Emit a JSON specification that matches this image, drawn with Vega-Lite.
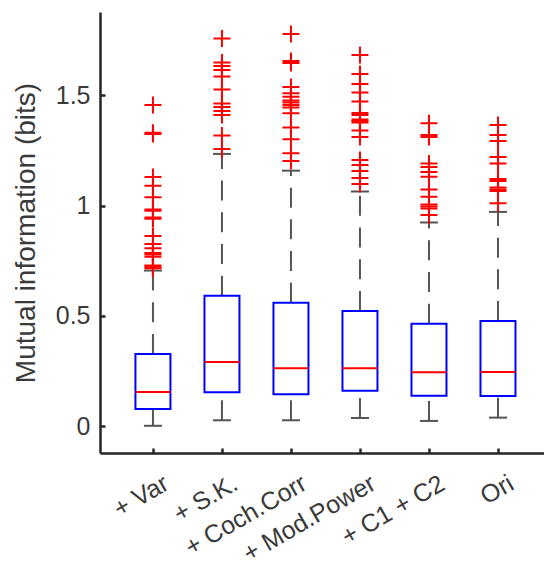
{
  "$schema": "https://vega.github.io/schema/vega-lite/v6.json",
  "autosize": {"type": "none"},
  "width": 444,
  "height": 441,
  "padding": {"left": 100, "top": 12, "right": 0, "bottom": 114},
  "background": "white",
  "config": {
    "view": {"stroke": null},
    "font": "Liberation Sans",
    "axis": {"grid": false, "domainColor": "#262626", "domainWidth": 2.5, "tickColor": "#262626", "tickWidth": 2.5, "labelColor": "#3a3a3a", "titleColor": "#3a3a3a", "labelFont": "Liberation Sans", "titleFont": "Liberation Sans", "titleFontWeight": "normal"}
  },
  "datasets": {
    "stats": [
      {"group": "+ Var", "lower": 0.001, "q1": 0.077, "median": 0.154, "q3": 0.327, "upper": 0.705},
      {"group": "+ S.K.", "lower": 0.026, "q1": 0.153, "median": 0.290, "q3": 0.591, "upper": 1.234},
      {"group": "+ Coch.Corr", "lower": 0.026, "q1": 0.144, "median": 0.262, "q3": 0.559, "upper": 1.158},
      {"group": "+ Mod.Power", "lower": 0.036, "q1": 0.160, "median": 0.262, "q3": 0.522, "upper": 1.063},
      {"group": "+ C1 + C2", "lower": 0.023, "q1": 0.137, "median": 0.244, "q3": 0.464, "upper": 0.923},
      {"group": "Ori", "lower": 0.038, "q1": 0.136, "median": 0.245, "q3": 0.476, "upper": 0.971}
    ],
    "outliers": [
      {"group": "+ Var", "value": 1.456}, {"group": "+ Var", "value": 1.330}, {"group": "+ Var", "value": 1.324},
      {"group": "+ Var", "value": 1.129}, {"group": "+ Var", "value": 1.090}, {"group": "+ Var", "value": 1.037},
      {"group": "+ Var", "value": 0.982}, {"group": "+ Var", "value": 0.976}, {"group": "+ Var", "value": 0.946},
      {"group": "+ Var", "value": 0.940}, {"group": "+ Var", "value": 0.862}, {"group": "+ Var", "value": 0.825},
      {"group": "+ Var", "value": 0.806}, {"group": "+ Var", "value": 0.785}, {"group": "+ Var", "value": 0.778},
      {"group": "+ Var", "value": 0.768}, {"group": "+ Var", "value": 0.728}, {"group": "+ Var", "value": 0.722},
      {"group": "+ Var", "value": 0.716},
      {"group": "+ S.K.", "value": 1.757}, {"group": "+ S.K.", "value": 1.649}, {"group": "+ S.K.", "value": 1.633},
      {"group": "+ S.K.", "value": 1.615}, {"group": "+ S.K.", "value": 1.585}, {"group": "+ S.K.", "value": 1.526},
      {"group": "+ S.K.", "value": 1.463}, {"group": "+ S.K.", "value": 1.447}, {"group": "+ S.K.", "value": 1.429},
      {"group": "+ S.K.", "value": 1.410}, {"group": "+ S.K.", "value": 1.317}, {"group": "+ S.K.", "value": 1.256},
      {"group": "+ Coch.Corr", "value": 1.778}, {"group": "+ Coch.Corr", "value": 1.655}, {"group": "+ Coch.Corr", "value": 1.646},
      {"group": "+ Coch.Corr", "value": 1.537}, {"group": "+ Coch.Corr", "value": 1.509}, {"group": "+ Coch.Corr", "value": 1.493},
      {"group": "+ Coch.Corr", "value": 1.476}, {"group": "+ Coch.Corr", "value": 1.467}, {"group": "+ Coch.Corr", "value": 1.456},
      {"group": "+ Coch.Corr", "value": 1.444}, {"group": "+ Coch.Corr", "value": 1.418}, {"group": "+ Coch.Corr", "value": 1.354},
      {"group": "+ Coch.Corr", "value": 1.300}, {"group": "+ Coch.Corr", "value": 1.237}, {"group": "+ Coch.Corr", "value": 1.202},
      {"group": "+ Mod.Power", "value": 1.683}, {"group": "+ Mod.Power", "value": 1.596}, {"group": "+ Mod.Power", "value": 1.551},
      {"group": "+ Mod.Power", "value": 1.512}, {"group": "+ Mod.Power", "value": 1.472}, {"group": "+ Mod.Power", "value": 1.420},
      {"group": "+ Mod.Power", "value": 1.410}, {"group": "+ Mod.Power", "value": 1.390}, {"group": "+ Mod.Power", "value": 1.383},
      {"group": "+ Mod.Power", "value": 1.376}, {"group": "+ Mod.Power", "value": 1.340}, {"group": "+ Mod.Power", "value": 1.311},
      {"group": "+ Mod.Power", "value": 1.206}, {"group": "+ Mod.Power", "value": 1.184}, {"group": "+ Mod.Power", "value": 1.156},
      {"group": "+ Mod.Power", "value": 1.125}, {"group": "+ Mod.Power", "value": 1.098},
      {"group": "+ C1 + C2", "value": 1.373}, {"group": "+ C1 + C2", "value": 1.320}, {"group": "+ C1 + C2", "value": 1.311},
      {"group": "+ C1 + C2", "value": 1.191}, {"group": "+ C1 + C2", "value": 1.175}, {"group": "+ C1 + C2", "value": 1.152},
      {"group": "+ C1 + C2", "value": 1.131}, {"group": "+ C1 + C2", "value": 1.073}, {"group": "+ C1 + C2", "value": 1.040},
      {"group": "+ C1 + C2", "value": 1.005}, {"group": "+ C1 + C2", "value": 0.995}, {"group": "+ C1 + C2", "value": 0.986},
      {"group": "+ C1 + C2", "value": 0.957},
      {"group": "Ori", "value": 1.365}, {"group": "Ori", "value": 1.320}, {"group": "Ori", "value": 1.293},
      {"group": "Ori", "value": 1.220}, {"group": "Ori", "value": 1.191}, {"group": "Ori", "value": 1.120},
      {"group": "Ori", "value": 1.111}, {"group": "Ori", "value": 1.082}, {"group": "Ori", "value": 1.073},
      {"group": "Ori", "value": 1.066}, {"group": "Ori", "value": 1.010}
    ]
  },
  "encoding": {
    "x": {
      "field": "group",
      "type": "nominal",
      "scale": {"type": "point", "domain": ["+ Var", "+ S.K.", "+ Coch.Corr", "+ Mod.Power", "+ C1 + C2", "Ori"], "padding": 0.717, "align": 0.535},
      "axis": {"title": null, "labelAngle": -30, "labelAlign": "right", "labelBaseline": "middle", "labelFontSize": 25, "labelOffset": 13, "labelPadding": 33, "tickSize": -5, "labelOverlap": false, "labelFlush": false, "labelBound": false, "labelLimit": 400}
    }
  },
  "layer": [
    {
      "data": {"name": "stats"},
      "mark": {"type": "rule", "color": "#555555", "strokeWidth": 2, "strokeDash": [20, 11.7]},
      "encoding": {
        "y": {"field": "lower", "type": "quantitative", "scale": {"domain": [-0.1224, 1.8776], "nice": false, "zero": false},
          "axis": {"title": "Mutual information (bits)", "values": [0, 0.5, 1, 1.5], "labelExpr": "'' + datum.value", "labelFontSize": 25, "labelPadding": 15, "tickSize": -5, "titleFontSize": 28, "titleX": -74, "titleY": 220.5, "titleBaseline": "middle", "titleAngle": -90}},
        "y2": {"field": "q1"}
      }
    },
    {
      "data": {"name": "stats"},
      "mark": {"type": "rule", "color": "#555555", "strokeWidth": 2, "strokeDash": [20, 11.7]},
      "encoding": {
        "y": {"field": "q3", "type": "quantitative"},
        "y2": {"field": "upper"}
      }
    },
    {
      "data": {"name": "stats"},
      "mark": {"type": "tick", "color": "#555555", "thickness": 2, "size": 18, "opacity": 1},
      "encoding": {"y": {"field": "lower", "type": "quantitative"}}
    },
    {
      "data": {"name": "stats"},
      "mark": {"type": "tick", "color": "#555555", "thickness": 2, "size": 18, "opacity": 1},
      "encoding": {"y": {"field": "upper", "type": "quantitative"}}
    },
    {
      "data": {"name": "stats"},
      "mark": {"type": "bar", "filled": false, "color": "#0000ff", "strokeWidth": 2, "width": 35, "opacity": 1},
      "encoding": {
        "y": {"field": "q1", "type": "quantitative"},
        "y2": {"field": "q3"}
      }
    },
    {
      "data": {"name": "stats"},
      "mark": {"type": "tick", "color": "#ff0000", "thickness": 2, "size": 35, "opacity": 1},
      "encoding": {"y": {"field": "median", "type": "quantitative"}}
    },
    {
      "data": {"name": "outliers"},
      "mark": {"type": "point", "shape": "M-1,0L1,0M0,-1L0,1", "filled": false, "color": "#ff0000", "strokeWidth": 2, "size": 289, "opacity": 1},
      "encoding": {"y": {"field": "value", "type": "quantitative"}}
    }
  ]
}
